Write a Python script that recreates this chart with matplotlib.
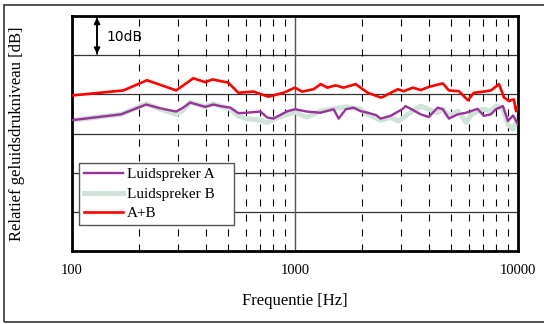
import matplotlib

matplotlib.use("Agg")
import matplotlib.pyplot as plt
from matplotlib.patches import Rectangle
from matplotlib.ticker import FixedLocator, NullFormatter

# Relative sound pressure level per speaker and for both together (dB)
freq_a = [100, 166, 215, 250, 293, 315, 339, 396, 430, 462, 513, 557, 605, 700, 750,
          800, 925, 1000, 1130, 1300, 1490, 1570, 1690, 1830, 1970, 2120, 2310, 2420,
          2680, 3030, 3130, 3400, 3660, 3980, 4360, 4600, 4900, 5370, 5850, 6580, 7030,
          7560, 7960, 8560, 9010, 9500, 10000]
level_a = [33.4, 34.9, 37.4, 36.4, 35.6, 36.6, 37.9, 36.8, 37.4, 37.0, 36.6, 35.2, 35.3,
           35.6, 34.1, 33.8, 35.7, 36.2, 35.6, 35.3, 36.2, 33.8, 36.2, 36.6, 35.7, 35.3,
           34.7, 33.8, 34.5, 36.2, 37.0, 35.9, 34.9, 34.2, 36.6, 36.2, 33.8, 34.9, 35.3,
           36.3, 34.5, 34.9, 36.2, 37.0, 33.2, 34.6, 32.3]

freq_b = [100, 166, 215, 250, 293, 315, 339, 396, 430, 462, 513, 557, 605, 700, 750,
          800, 925, 1000, 1080, 1130, 1300, 1490, 1700, 1970, 2120, 2420, 2680, 2900,
          3030, 3200, 3660, 3980, 4360, 4600, 4900, 5370, 5850, 6200, 6580, 7030, 7560,
          7960, 8560, 9010, 9500, 10000]
level_b = [33.4, 34.9, 37.6, 36.2, 34.9, 36.0, 38.0, 36.8, 37.6, 37.0, 36.2, 34.5, 33.8,
           33.4, 32.8, 33.6, 34.9, 35.5, 34.6, 34.2, 35.7, 36.3, 36.8, 36.2, 34.9, 33.4,
           34.1, 33.2, 33.8, 34.9, 37.0, 36.2, 35.3, 36.2, 34.5, 35.7, 32.8, 34.9, 35.7,
           36.2, 35.7, 37.0, 36.2, 32.3, 31.1, 34.1]

freq_ab = [100, 170, 217, 293, 350, 396, 426, 502, 557, 651, 760, 888, 1000, 1075,
           1211, 1302, 1400, 1520, 1650, 1870, 2120, 2420, 2470, 2890, 3075, 3376,
           3664, 3981, 4600, 4898, 5431, 5960, 6340, 7030, 7560, 8220, 8650, 9110,
           9580, 9800, 10000]
level_ab = [39.7, 41.0, 43.6, 41.0, 44.1, 43.1, 43.8, 43.0, 40.4, 40.7, 39.4, 40.4,
            41.7, 40.7, 41.3, 42.6, 41.7, 42.3, 41.7, 42.6, 40.4, 39.2, 39.3, 41.3,
            40.8, 41.7, 41.1, 41.9, 42.8, 41.0, 40.8, 38.5, 40.4, 40.7, 41.0, 42.6,
            39.2, 38.3, 38.7, 35.7, 37.0]

x_ticks = [100, 1000, 10000]
x_tick_labels = ["100", "1000", "10000"]
minor_freqs = [200, 300, 400, 500, 600, 700, 800, 900,
               2000, 3000, 4000, 5000, 6000, 7000, 8000, 9000]

plt.rcParams["font.family"] = ["Liberation Serif", "DejaVu Serif"]

fig = plt.figure(figsize=(5.44, 3.24), dpi=100)
fig.patches.append(Rectangle((4 / 544, 2 / 324), 1.0, 1 - 7 / 324, transform=fig.transFigure,
                             fill=False, edgecolor="#333333", linewidth=1.2))

ax = fig.add_axes([72 / 544, 1 - 251 / 324, 446 / 544, 235 / 324])
ax.set_xscale("log")
ax.set_xlim(100, 10000)
ax.set_ylim(0, 60)

# grid: solid horizontals every 10 dB, dashed verticals, solid at 1 kHz
for y in range(10, 60, 10):
    ax.axhline(y, color="#333333", linewidth=0.9, zorder=1)
for f in minor_freqs:
    ax.axvline(f, color="black", linewidth=0.8, linestyle=(0, (6.3, 7.2)), zorder=1)
ax.axvline(1000, color="#555555", linewidth=1.0, zorder=1)

ax.plot(freq_a, level_a, color="#993399", linewidth=1.7, label="Luidspreker A", zorder=3)
ax.plot(freq_b, level_b, color="#cfe3d8", linewidth=3.6, label="Luidspreker B", zorder=2)
ax.plot(freq_ab, level_ab, color="#ff0000", linewidth=1.9, label="A+B", zorder=4)

ax.xaxis.set_major_locator(FixedLocator(x_ticks))
ax.set_xticklabels(x_tick_labels)
ax.xaxis.set_minor_formatter(NullFormatter())
ax.xaxis.set_minor_locator(FixedLocator([]))
ax.tick_params(axis="x", length=0, labelsize=10.5, pad=9)
ax.set_yticks([])
for spine in ax.spines.values():
    spine.set_linewidth(2.0)

ax.set_xlabel("Frequentie [Hz]", fontsize=12, labelpad=12)
ax.set_ylabel("Relatief geluidsdrukniveau [dB]", fontsize=12, labelpad=34)

# 10 dB scale marker
ax.annotate("", xy=(129.5, 59.6), xytext=(129.5, 50.3),
            arrowprops=dict(arrowstyle="-|>", color="black", linewidth=1.2,
                            mutation_scale=9, shrinkA=0, shrinkB=0), zorder=5)
ax.annotate("", xy=(129.5, 50.3), xytext=(129.5, 59.6),
            arrowprops=dict(arrowstyle="-|>", color="black", linewidth=1.2,
                            mutation_scale=9, shrinkA=0, shrinkB=0), zorder=5)
ax.text(143, 54.6, "10dB", fontsize=10, family="DejaVu Sans", va="center", ha="left")

leg = ax.legend(loc="lower left", bbox_to_anchor=(0.0157, 0.1106, 0.348, 0.281),
                mode="expand", fontsize=11, frameon=True, fancybox=False,
                edgecolor="#555555", framealpha=1, handlelength=2.6, borderpad=0.3,
                labelspacing=0.38, handletextpad=0.25, borderaxespad=0)
leg.get_frame().set_linewidth(1.0)
leg.set_zorder(6)

fig.savefig("out.png", dpi=100)
